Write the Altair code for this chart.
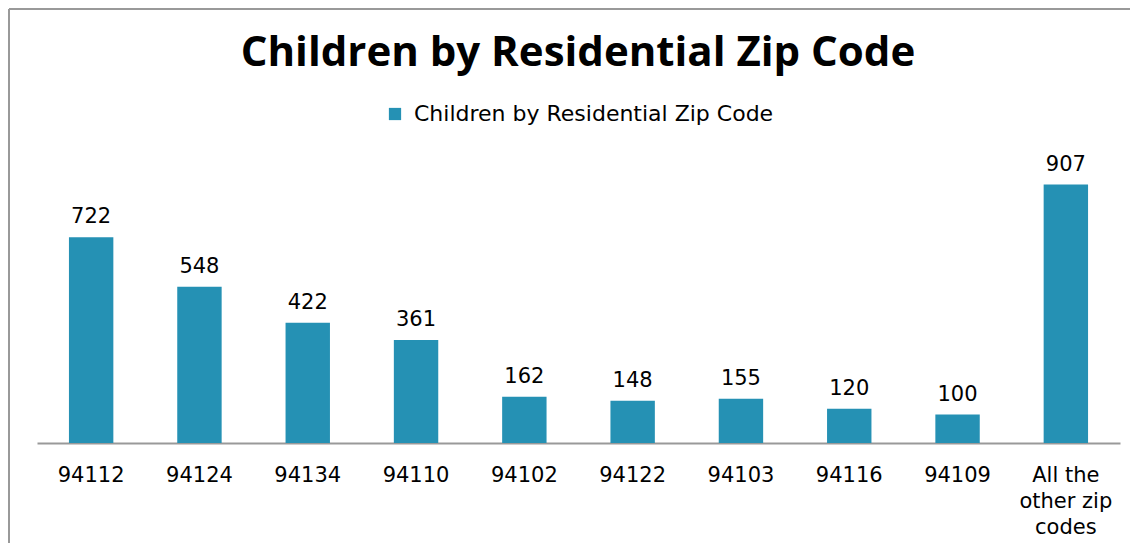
import altair as alt
import pandas as pd

categories = ["94112", "94124", "94134", "94110", "94102", "94122", "94103", "94116", "94109", "All the other zip codes"]
values = [722, 548, 422, 361, 162, 148, 155, 120, 100, 907]
series_name = "Children by Residential Zip Code"
title_text = "Children by Residential Zip Code"

df = pd.DataFrame({"zip": categories, "children": values, "series": series_name})
one = pd.DataFrame({"t": [title_text]})

FONT = "DejaVu Sans"
TFONT = "Open Sans"
BAR = "#2591b4"

x_enc = alt.X("zip:N", sort=categories, title=None,
              scale=alt.Scale(paddingInner=0.59, paddingOuter=0.295),
              axis=alt.Axis(labelAngle=0, tickSize=0, labelPadding=21, labelFontSize=21,
                            labelFont=FONT, labelColor="#000", domainColor="#999",
                            domainWidth=2, labelLineHeight=26, labelLimit=300,
                            labelExpr="datum.label == 'All the other zip codes' ? ['All the', 'other zip', 'codes'] : datum.label"))
y_enc = alt.Y("children:Q", title=None, scale=alt.Scale(domain=[0, 1000]), axis=None)

base = alt.Chart(df)

bars = base.mark_bar().encode(
    x=x_enc, y=y_enc,
    color=alt.Color("series:N", scale=alt.Scale(range=[BAR]),
                    legend=alt.Legend(title=None, orient="none", legendX=347, legendY=-55,
                                      direction="horizontal", symbolType="square", symbolSize=150,
                                      symbolStrokeWidth=0, labelFontSize=22, labelFont=FONT,
                                      labelColor="#000", labelLimit=600, labelOffset=8))
)

labels = base.mark_text(dy=-14, baseline="alphabetic", fontSize=21, font=FONT, color="#000").encode(
    x=alt.X("zip:N", sort=categories), y="children:Q", text="children:Q"
)

top = alt.Chart(one)
title = top.mark_text(fontSize=42, fontWeight="bold", font=TFONT, color="#000", baseline="alphabetic").encode(
    x=alt.value(541), y=alt.value(-92), text="t:N"
)

frame_left = top.mark_rule(color="#999", strokeWidth=2, clip=False).encode(
    x=alt.value(-28), y=alt.value(-149), y2=alt.value(400)
)
frame_top = top.mark_rule(color="#999", strokeWidth=2, clip=False).encode(
    x=alt.value(-28), x2=alt.value(1200), y=alt.value(-149)
)

chart = alt.layer(frame_left, frame_top, bars, labels, title).properties(
    width=1083, height=285,
    background="white",
    autosize=alt.AutoSizeParams(type="none"),
    padding={"left": 29, "top": 150, "right": 10, "bottom": 100},
).configure_view(stroke="transparent", strokeWidth=0)

chart.save("out.html", embed_options={"renderer": "svg", "actions": False})
